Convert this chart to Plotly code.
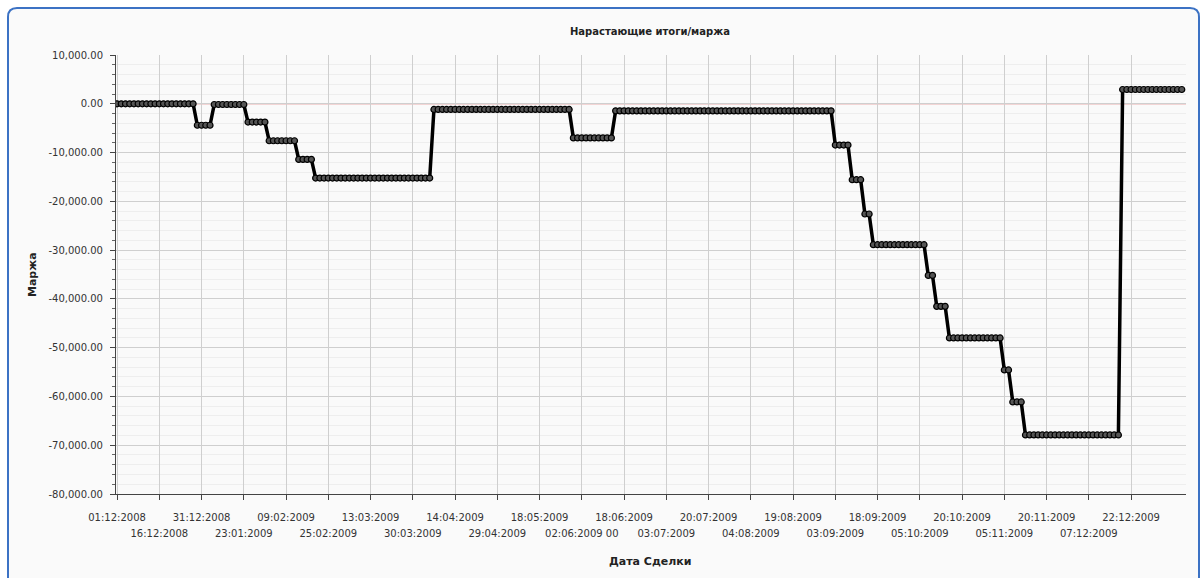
import plotly.graph_objects as go

# ---- data ----
level_values = [0, -4400, -150, -3750, -7580, -11400, -15230, -1160, -7000, -1450,
                -8460, -15570, -22600, -28890, -35180, -41530, -48010, -54570,
                -61130, -67890, 2930]
level_counts = [19, 4, 8, 5, 7, 4, 28, 33, 10, 52, 4, 3, 2, 13, 2, 3, 13, 2, 3, 23, 15]

tick_labels = ["01:12:2008", "16:12:2008", "31:12:2008", "23:01:2009", "09:02:2009",
               "25:02:2009", "13:03:2009", "30:03:2009", "14:04:2009", "29:04:2009",
               "18:05:2009", "02:06:2009 00", "18:06:2009", "03:07:2009", "20:07:2009",
               "04:08:2009", "19:08:2009", "03:09:2009", "18:09:2009", "05:10:2009",
               "20:10:2009", "05:11:2009", "20:11:2009", "07:12:2009", "22:12:2009"]
tick_step = 10
y_ticks = [10000, 0, -10000, -20000, -30000, -40000, -50000, -60000, -70000, -80000]

title_text = "Нарастающие итоги/маржа"
x_title = "Дата Сделки"
y_title = "Маржа"

# ---- build series ----
margin_values = []
for v, c in zip(level_values, level_counts):
    margin_values.extend([v] * c)
x_idx = list(range(len(margin_values)))

tick_pos = [i * tick_step for i in range(len(tick_labels))]
row2_pos = tick_pos[1::2]
row2_txt = tick_labels[1::2]
main_text = [t if i % 2 == 0 else "" for i, t in enumerate(tick_labels)]

W, H = 1203, 578
L, R, T, B = 116, 17, 55, 84
pw, ph = W - L - R, H - T - B

def px(x):
    return (x - L) / pw

def py(y):
    return (H - B - y) / ph

font_fam = "DejaVu Sans, Verdana, sans-serif"
xr = [-0.25, 253]

fig = go.Figure()
fig.add_trace(go.Scatter(
    x=x_idx, y=margin_values, mode="lines+markers",
    line=dict(color="#000000", width=3.5),
    marker=dict(symbol="circle", size=6, color="#555555",
                line=dict(color="#000000", width=1.2)),
    showlegend=False, hoverinfo="x+y"))
# invisible trace for the second tick-label row axis
fig.add_trace(go.Scatter(x=[xr[0]], y=[0], xaxis="x2", mode="markers",
                         marker=dict(opacity=0), showlegend=False, hoverinfo="skip"))

# rounded frame
x0, x1, y0, y1 = px(8), px(1199), py(8), py(600)
rx, ry = 9 / pw, 9 / ph
path = (f"M {x0+rx},{y0} L {x1-rx},{y0} Q {x1},{y0} {x1},{y0-ry} "
        f"L {x1},{y1+ry} Q {x1},{y1} {x1-rx},{y1} L {x0+rx},{y1} "
        f"Q {x0},{y1} {x0},{y1+ry} L {x0},{y0-ry} Q {x0},{y0} {x0+rx},{y0} Z")
fig.add_shape(type="path", path=path, xref="paper", yref="paper",
              line=dict(color="#3c72c4", width=2), fillcolor="#fafafa", layer="below")
# red zero line
fig.add_shape(type="line", xref="paper", yref="y", x0=0, x1=1, y0=0, y1=0,
              line=dict(color="#e07070", width=1), layer="between")

fig.update_layout(
    width=W, height=H,
    margin=dict(l=L, r=R, t=T, b=B, pad=0),
    paper_bgcolor="#ffffff", plot_bgcolor="#ffffff",
    font=dict(family=font_fam, size=10, color="#333333"),
    xaxis=dict(range=xr, tickmode="array", tickvals=tick_pos, ticktext=main_text,
               showgrid=True, gridcolor="#cfcfcf", gridwidth=1,
               ticks="outside", ticklen=5, tickcolor="#444444",
               showline=True, linecolor="#444444", linewidth=1,
               zeroline=False, ticklabelstandoff=9,
               tickfont=dict(family=font_fam, size=10, color="#333333")),
    xaxis2=dict(range=xr, overlaying="x", anchor="y", side="bottom",
                tickmode="array", tickvals=row2_pos, ticktext=row2_txt,
                showgrid=False, ticks="", showline=False, zeroline=False,
                ticklabelstandoff=32,
                tickfont=dict(family=font_fam, size=10, color="#333333")),
    yaxis=dict(range=[-80000, 10000], tickmode="array", tickvals=y_ticks,
               ticktext=[f"{v:,.2f}" for v in y_ticks],
               showgrid=True, gridcolor="#cfcfcf", gridwidth=1,
               ticks="outside", ticklen=5, tickcolor="#444444",
               showline=True, linecolor="#444444", linewidth=1,
               zeroline=False,
               ticklabelstandoff=5,
               minor=dict(dtick=2000, tick0=0, ticks="outside", ticklen=3,
                          tickcolor="#666666", showgrid=True, gridcolor="#eeeeee"),
               tickfont=dict(family=font_fam, size=10, color="#333333")),
    annotations=[
        dict(text=f"<b>{title_text}</b>", x=px(650), y=py(31), xref="paper", yref="paper",
             showarrow=False, xanchor="center", yanchor="middle",
             font=dict(family=font_fam, size=10, color="#222222")),
        dict(text=f"<b>{x_title}</b>", x=px(650), y=py(561), xref="paper", yref="paper",
             showarrow=False, xanchor="center", yanchor="middle",
             font=dict(family=font_fam, size=11, color="#222222")),
        dict(text=f"<b>{y_title}</b>", x=px(32), y=py(275), xref="paper", yref="paper",
             showarrow=False, xanchor="center", yanchor="middle", textangle=-90,
             font=dict(family=font_fam, size=11, color="#222222")),
    ],
)

fig.write_html("out.html", config={"displayModeBar": False},
               post_script="document.body.style.margin='0';document.body.style.overflow='hidden';")
